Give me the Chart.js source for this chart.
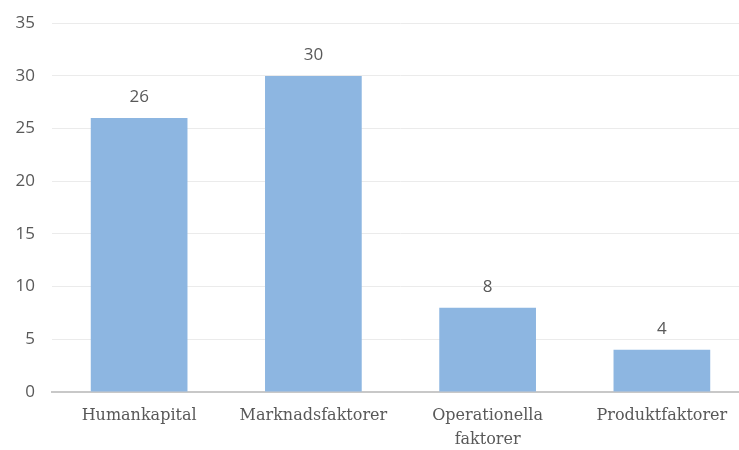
<!DOCTYPE html>
<html>
<head>
<meta charset="utf-8">
<script src="https://cdn.jsdelivr.net/npm/chart.js@4"></script>
<style>
  html, body { margin: 0; padding: 0; background: #fff; overflow: hidden; }
  #wrap { width: 739px; height: 450px; overflow: hidden; }
  #myChart { display: block; margin-top: -4px; }
</style>
</head>
<body>
<div id="wrap"><canvas id="myChart" width="749" height="454"></canvas></div>
<script>
var categories = ["Humankapital", "Marknadsfaktorer", ["Operationella", "faktorer"], "Produktfaktorer"];
var values = [26, 30, 8, 4];
var yTicks = [0, 5, 10, 15, 20, 25, 30, 35];

// draws the number above each bar
const valueLabels = {
  id: "valueLabels",
  afterDatasetsDraw(chart) {
    const ctx = chart.ctx;
    const meta = chart.getDatasetMeta(0);
    ctx.save();
    ctx.font = "17px 'Open Sans', sans-serif";
    ctx.fillStyle = "#595959";
    ctx.textAlign = "center";
    ctx.textBaseline = "middle";
    meta.data.forEach((bar, i) => {
      ctx.fillText(values[i], bar.x, bar.y - 21);
    });
    ctx.restore();
  }
};

var ctx = document.getElementById("myChart");
new Chart(ctx, {
  type: "bar",
  data: {
    labels: categories,
    datasets: [{
      data: values,
      backgroundColor: "#8db6e1",
      categoryPercentage: 0.555,
      barPercentage: 1
    }]
  },
  options: {
    responsive: false,
    animation: false,
    layout: { padding: { top: 8, right: 0, left: 0, bottom: 0 } },
    plugins: { legend: { display: false }, tooltip: { enabled: false } },
    scales: {
      y: {
        min: 0,
        max: 35,
        afterBuildTicks(axis) { axis.ticks = yTicks.map(v => ({ value: v })); },
        afterFit(axis) { axis.width = 52; },
        border: { display: false },
        grid: { color: "#ebebeb", drawTicks: false },
        ticks: {
          padding: 17,
          color: "#595959",
          font: { family: "'Open Sans', sans-serif", size: 17 }
        }
      },
      x: {
        afterFit(axis) { axis.height = 58; },
        border: { display: true, color: "#c8c8c8", width: 2 },
        grid: { display: false },
        ticks: {
          padding: 4,
          color: "#595959",
          maxRotation: 0,
          autoSkip: false,
          font: { family: "'DejaVu Serif', serif", size: 16, lineHeight: 1.5 }
        }
      }
    }
  },
  plugins: [valueLabels]
});
</script>
</body>
</html>
